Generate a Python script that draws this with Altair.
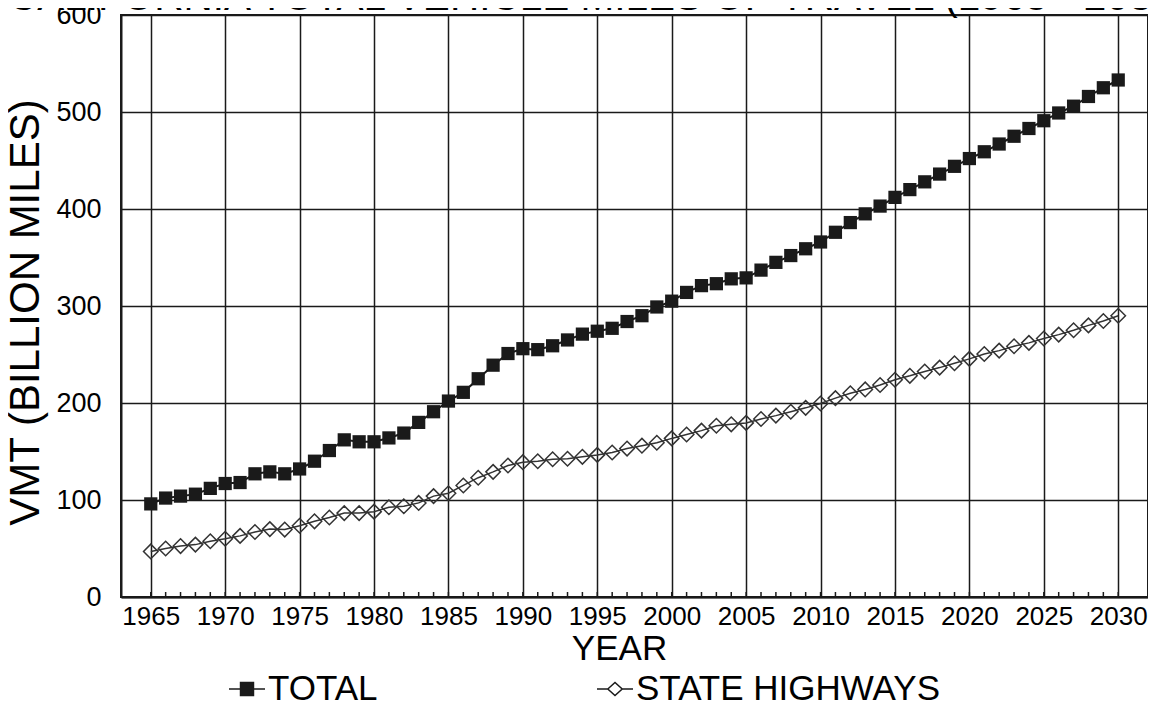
import altair as alt
import pandas as pd

YEARS = list(range(1965, 2031))
TOTAL = [96, 102, 104, 106, 112, 117, 118, 127, 129, 127,
         132, 140, 151, 162, 160, 160, 164, 169, 180, 191,
         202, 211, 225, 239, 251, 256, 255, 259, 265, 271,
         274, 277, 284, 290, 299, 305, 314, 321, 323, 328,
         329, 337, 345, 352, 359, 366, 376, 386, 395, 403,
         412, 420, 428, 436, 444, 452, 459, 467, 475, 483,
         491, 499, 506, 516, 525, 533]
STATE = [47, 50, 52.5, 54, 57.5, 60, 63, 67, 70, 69.5,
         73.5, 78, 82, 86.5, 86.5, 88, 92.5, 93.5, 97, 104,
         107, 115, 123, 129, 135.5, 139, 140, 142, 142.5, 144.5,
         146.5, 149, 153, 156, 159, 163.5, 167.5, 171.5, 176.5, 178,
         179.5, 183.5, 187, 191, 195, 199.5, 205, 210, 214, 218.5,
         224, 228, 232.5, 236.5, 241, 245.5, 250.5, 254, 258.5, 262,
         266.5, 270.5, 275, 280, 284.5, 290]
SERIES = ["TOTAL", "STATE HIGHWAYS"]
X_TICKS = list(range(1965, 2031, 5))
Y_TICKS = [0, 100, 200, 300, 400, 500, 600]
TITLE = "CALIFORNIA TOTAL VEHICLE MILES OF TRAVEL (1965 - 2030)"
X_TITLE = "YEAR"
Y_TITLE = "VMT (BILLION MILES)"

FONT = "Liberation Sans, Arial, sans-serif"
INK = "#1a1a1a"

df = pd.DataFrame(
    {"year": YEARS * 2,
     "series": [SERIES[0]] * len(YEARS) + [SERIES[1]] * len(YEARS),
     "value": TOTAL + STATE}
)
years_df = pd.DataFrame({"year": YEARS})
title_df = pd.DataFrame({"t": [TITLE]})

W, H = 1027, 582

x_scale = alt.Scale(domain=[1963, 2032], nice=False, zero=False)
y_scale = alt.Scale(domain=[0, 600], nice=False)

x_axis = alt.Axis(values=X_TICKS, format="d", grid=True, ticks=False,
                  gridColor=INK, gridWidth=1.5, domainColor=INK, domainWidth=2,
                  labelFont=FONT, labelFontSize=26, labelColor="black",
                  labelPadding=6, title=X_TITLE, titleFont=FONT,
                  titleFontSize=35, titleFontWeight="normal", titleColor="black",
                  titlePadding=2, titleX=498, titleAlign="center")
y_axis = alt.Axis(values=Y_TICKS, grid=True, ticks=False,
                  gridColor=INK, gridWidth=1.5, domainColor=INK, domainWidth=2,
                  labelFont=FONT, labelFontSize=27, labelColor="black",
                  labelPadding=20, title=Y_TITLE, titleFont=FONT,
                  titleFontSize=42, titleFontWeight="normal", titleColor="black",
                  titlePadding=8, titleY=297)

base = alt.Chart(df)

lines = base.mark_line().encode(
    x=alt.X("year:Q", scale=x_scale, axis=x_axis),
    y=alt.Y("value:Q", scale=y_scale, axis=y_axis),
    color=alt.Color("series:N", scale=alt.Scale(domain=SERIES, range=[INK, "#333333"]), legend=None),
    strokeWidth=alt.StrokeWidth("series:N", scale=alt.Scale(domain=SERIES, range=[2, 1.5]), legend=None),
)

minor = alt.Chart(years_df).mark_rule(color=INK, strokeWidth=1.5).encode(
    x=alt.X("year:Q"),
    y=alt.value(H), y2=alt.value(H - 5),
)

pts_total = base.transform_filter(alt.datum.series == SERIES[0]).mark_point(
    shape="square", filled=True, size=175, color=INK, opacity=1
).encode(x="year:Q", y="value:Q")

pts_state = base.transform_filter(alt.datum.series == SERIES[1]).mark_point(
    shape="diamond", filled=False, size=210, color="#333333", strokeWidth=1.5, opacity=1
).encode(x="year:Q", y="value:Q")

# legend symbols: a line segment with the series marker (solid square drawn as an outline plus hatching)
hatch = "".join(f"M-0.36,{v / 100:.2f}H0.36" for v in range(-30, 31, 6))
P_TOTAL = "M-1,0H1M-0.36,-0.36H0.36V0.36H-0.36Z" + hatch
P_STATE = "M-1,0H-0.4M0.4,0H1M-0.4,0L0,-0.36L0.4,0L0,0.36Z"

legend_layer = base.transform_filter(alt.datum.value < 0).mark_point(
    filled=False, color=INK, strokeWidth=1.5, opacity=1
).encode(
    x="year:Q", y="value:Q",
    shape=alt.Shape("series:N", scale=alt.Scale(domain=SERIES, range=[P_TOTAL, P_STATE]),
                    legend=alt.Legend(orient="none", legendX=107, legendY=655,
                                      direction="horizontal", title=None,
                                      symbolSize=1296, symbolStrokeWidth=1.5,
                                      symbolStrokeColor=INK,
                                      symbolFillColor="transparent",
                                      labelFont=FONT, labelFontSize=35,
                                      labelColor="black", labelOffset=2,
                                      labelLimit=0, columnPadding=216, padding=0)),
)

title_layer = alt.Chart(title_df).mark_text(
    align="left", baseline="alphabetic", font=FONT, fontSize=40.5, color="black"
).encode(x=alt.value(-113), y=alt.value(-5), text="t:N")

chart = alt.layer(lines, minor, pts_total, pts_state, legend_layer, title_layer).resolve_scale(
    shape="independent"
).resolve_legend(shape="independent").properties(
    width=W, height=H,
    autosize=alt.AutoSizeParams(type="none"),
    padding={"left": 113, "top": 7, "right": 0, "bottom": 104},
).configure_view(stroke=INK, strokeWidth=2)

chart.save("out.html", embed_options={"renderer": "svg", "actions": False})
